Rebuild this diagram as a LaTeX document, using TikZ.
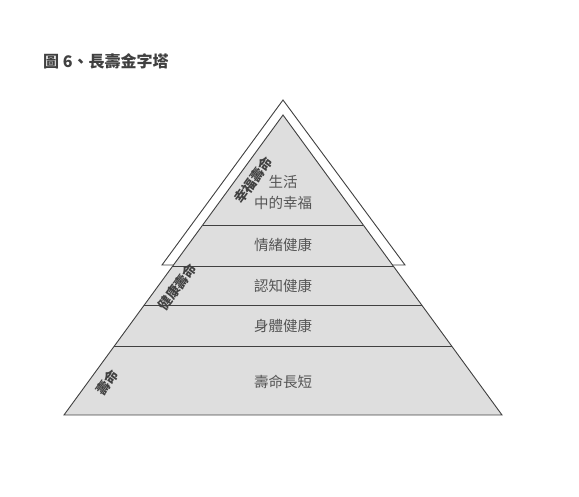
\documentclass[tikz,border=0pt]{standalone}
\usepackage{fontspec}
\setmainfont{Noto Sans CJK TC}
\usetikzlibrary{calc}
\definecolor{edge}{HTML}{404040}
\definecolor{layerfill}{HTML}{DEDEDE}
\definecolor{layertext}{HTML}{555555}
\tikzset{
  layer/.style={font=\fontsize{14.5}{17}\selectfont, text=layertext, align=center, inner sep=0pt},
  side/.style={font=\fontsize{13.5}{16}\selectfont\bfseries, text=edge, rotate=54, inner sep=0pt},
  divider/.style={draw=edge, line width=0.9pt},
}
\begin{document}
\begin{tikzpicture}[x=1pt,y=1pt]
\useasboundingbox (0,0) rectangle (579,496);
% outer white triangle
\coordinate (O) at (283,396);
\coordinate (OL) at (162,231);
\coordinate (OR) at (405,231);
\draw[edge, fill=white, line width=0.9pt] (O) -- (OL) -- (OR) -- cycle;
% gray pyramid
\coordinate (A) at (283,381);
\coordinate (BL) at (64,81);
\coordinate (BR) at (502,81);
\draw[edge, fill=layerfill, line width=0.9pt] (A) -- (BL) -- (BR) -- cycle;
% dividers
\draw[divider] ($(A)!0.3667!(BL)$) -- ($(A)!0.3667!(BR)$);
\draw[divider] ($(A)!0.5033!(BL)$) -- ($(A)!0.5033!(BR)$);
\draw[divider] ($(A)!0.6333!(BL)$) -- ($(A)!0.6333!(BR)$);
\draw[divider] ($(A)!0.77!(BL)$) -- ($(A)!0.77!(BR)$);
% layer labels
\node[layer] (l1a) at (283,314) {生活};
\node[layer] (l1b) at (283,293) {中的幸福};
\node[layer] (l2) at (283,251) {情緒健康};
\node[layer] (l3) at (283,210) {認知健康};
\node[layer] (l4) at (283,170) {身體健康};
\node[layer] (l5) at (283,114) {壽命長短};
% side labels
\node[side] (s1) at (253,316) {幸福壽命};
\node[side] (s2) at (177,209) {健康壽命};
\node[side] (s3) at (107,114) {壽命};
% title
\node[anchor=west, font=\fontsize{16}{19}\selectfont\bfseries, text=edge, inner sep=0pt] (title) at (43,435) {圖 6、長壽金字塔};
\end{tikzpicture}
\end{document}
